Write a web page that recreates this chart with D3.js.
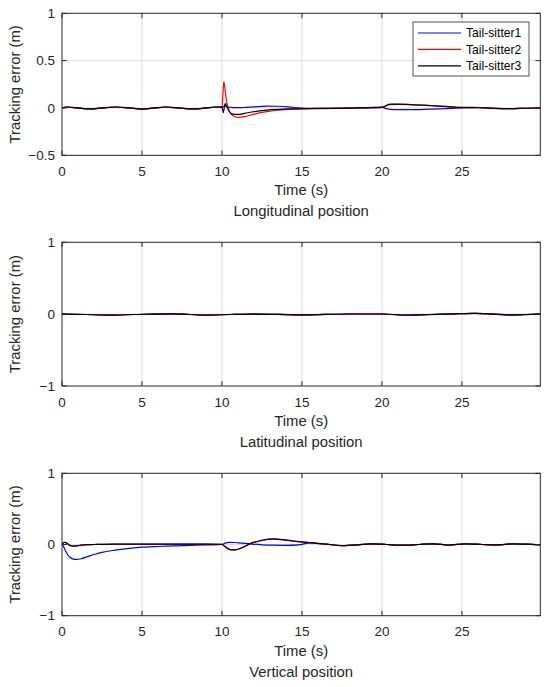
<!DOCTYPE html>
<html>
<head>
<meta charset="utf-8">
<script src="https://cdn.jsdelivr.net/npm/d3@7/dist/d3.min.js"></script>
<style>
  html, body { margin: 0; padding: 0; background: #fff; }
  svg { display: block; font-family: "Liberation Sans", Arial, Helvetica, sans-serif; }
</style>
</head>
<body>
<svg id="chart" width="550" height="687"></svg>
<script>
// ---------------- DATA ----------------
const seriesNames = ["Tail-sitter1", "Tail-sitter2", "Tail-sitter3"];
const seriesColors = ["#0000ff", "#ff0000", "#000000"];
const xTicks = [0, 5, 10, 15, 20, 25];
const xMax = 29.9;

// Longitudinal position
const lonTime = [0,0.3,1.0,1.75,2.5,3.3,4.2,5.0,5.8,6.5,7.3,8.2,9.0,9.6,
  10.0,10.08,10.12,10.2,10.3,10.45,10.6,10.8,11.0,11.4,12.0,12.8,13.5,14.5,15.5,17,18.5,20.0,20.2,20.5,21,21.8,23,24,25,26,27,28,29,29.9];
const lonTS1 = [0,0.01,0,-0.01,0,0.01,0,-0.012,0,0.01,0,-0.01,0,0.01,
  0.008,0.015,0.02,0.02,0.012,0.008,0.005,0.003,0.003,0.005,0.012,0.02,0.018,0.005,-0.005,-0.004,0.0,0.008,-0.004,-0.014,-0.018,-0.018,-0.012,-0.006,0.0,0.003,-0.003,-0.008,-0.003,0.0];
const lonTS2 = [0,0.01,0,-0.01,0,0.01,0,-0.012,0,0.01,0,-0.01,0,0.01,
  0.01,0.2,0.275,0.18,0.06,-0.03,-0.07,-0.09,-0.1,-0.092,-0.065,-0.038,-0.024,-0.013,-0.008,-0.005,0.0,0.006,0.018,0.036,0.038,0.034,0.024,0.014,0.005,0.004,-0.005,-0.008,-0.003,0.0];
const lonTS3 = [0,0.01,0,-0.01,0,0.01,0,-0.012,0,0.01,0,-0.01,0,0.01,
  0.008,-0.05,-0.02,0.045,0.015,-0.035,-0.06,-0.068,-0.068,-0.058,-0.038,-0.022,-0.014,-0.009,-0.006,-0.004,0.0,0.006,0.02,0.04,0.04,0.036,0.026,0.016,0.006,0.005,-0.004,-0.008,-0.003,0.0];
const lonYTicks = [-0.5, 0, 0.5, 1];

// Latitudinal position
const latTime = [0,1.5,3,4.5,6.8,8,9,10.5,12,13.5,15,16.5,18,20,21.5,23,24.5,25.8,27,28,29,29.9];
const latTS1 = [0,-0.005,-0.013,-0.005,0.005,-0.005,-0.013,-0.005,0,-0.003,-0.01,-0.004,0.002,0.002,-0.018,-0.007,0.005,0.012,0.001,-0.014,-0.006,0];
const latTS2 = [0,-0.005,-0.013,-0.005,0.005,-0.005,-0.013,-0.005,0,-0.003,-0.01,-0.004,0.002,0.002,-0.012,-0.005,0.004,0.01,0,-0.01,-0.005,0];
const latTS3 = [0,-0.005,-0.013,-0.005,0.005,-0.005,-0.013,-0.005,0,-0.003,-0.01,-0.004,0.002,0.002,-0.012,-0.005,0.004,0.01,0,-0.01,-0.005,0];
const latYTicks = [-1, 0, 1];

// Vertical position
const verTime = [0,0.1,0.2,0.35,0.5,0.7,0.9,1.2,1.6,2.0,2.5,3.3,4.2,5.0,6.0,7.0,8.0,9.0,10.0,10.2,
  10.5,10.8,11.2,11.8,12.5,13.2,14.0,14.8,15.5,16.5,17.5,18.5,19.3,20.3,21.3,22.3,23.2,24.2,25.2,26.3,27.2,28.2,29.0,29.9];
const verTS1 = [0,-0.03,-0.08,-0.14,-0.18,-0.205,-0.21,-0.2,-0.17,-0.14,-0.11,-0.08,-0.055,-0.038,-0.028,-0.02,-0.013,-0.006,0,0.02,
  0.03,0.028,0.02,0.008,-0.004,-0.01,-0.012,-0.005,0.022,0.005,-0.015,-0.005,0.01,0,-0.01,0,0.01,-0.008,0.01,0,-0.005,0.01,0.005,-0.005];
const verTS2 = [0,0.028,0.03,0.01,-0.014,-0.024,-0.019,-0.01,-0.003,0,0.003,0.005,0.005,0.005,0.005,0.005,0.005,0.005,0.003,-0.032,
  -0.075,-0.078,-0.052,0.013,0.058,0.076,0.061,0.039,0.024,0.005,-0.015,-0.005,0.01,0,-0.01,0,0.01,-0.008,0.01,0,-0.005,0.01,0.005,-0.005];
const verTS3 = [0,0.025,0.03,0.01,-0.012,-0.022,-0.018,-0.01,-0.003,0,0.003,0.005,0.005,0.005,0.005,0.005,0.005,0.005,0.003,-0.03,
  -0.07,-0.075,-0.05,0.015,0.06,0.078,0.062,0.04,0.025,0.005,-0.015,-0.005,0.01,0,-0.01,0,0.01,-0.008,0.01,0,-0.005,0.01,0.005,-0.005];
const verYTicks = [-1, 0, 1];

const panelTitles = ["Longitudinal position", "Latitudinal position", "Vertical position"];
const xLabel = "Time (s)";
const yLabel = "Tracking error (m)";

// ---------------- DRAWING ----------------
const svg = d3.select("#chart");
const axisColor = "#262626";
const gridColor = "#dfdfdf";
const left = 62, right = 540.3;

const panels = [
  { top: 13.3, bottom: 155.3, yDomain: [-0.5, 1], yTicks: lonYTicks, time: lonTime, series: [lonTS1, lonTS2, lonTS3], title: panelTitles[0], legend: true },
  { top: 242.3, bottom: 386, yDomain: [-1, 1], yTicks: latYTicks, time: latTime, series: [latTS1, latTS2, latTS3], title: panelTitles[1] },
  { top: 473.3, bottom: 615.7, yDomain: [-1, 1], yTicks: verYTicks, time: verTime, series: [verTS1, verTS2, verTS3], title: panelTitles[2] }
];

const fmt = v => (v < 0 ? "\u2212" + Math.abs(v) : String(v));

panels.forEach((p, pi) => {
  const x = d3.scaleLinear().domain([0, xMax]).range([left, right]);
  const y = d3.scaleLinear().domain(p.yDomain).range([p.bottom, p.top]);
  const g = svg.append("g");
  const tickLen = 4.8;

  // grid
  g.append("g").selectAll("line").data(xTicks.filter(t => t > 0)).join("line")
    .attr("x1", d => x(d)).attr("x2", d => x(d))
    .attr("y1", p.top).attr("y2", p.bottom)
    .attr("stroke", gridColor).attr("stroke-width", 1);
  g.append("g").selectAll("line").data(p.yTicks.filter(t => t > p.yDomain[0] && t < p.yDomain[1])).join("line")
    .attr("x1", left).attr("x2", right)
    .attr("y1", d => y(d)).attr("y2", d => y(d))
    .attr("stroke", gridColor).attr("stroke-width", 1);

  // clip
  const clipId = "clip" + pi;
  svg.append("clipPath").attr("id", clipId).append("rect")
    .attr("x", left).attr("y", p.top).attr("width", right - left).attr("height", p.bottom - p.top);

  // lines
  const line = d3.line().x(d => x(d[0])).y(d => y(d[1])).curve(d3.curveMonotoneX);
  const lg = g.append("g").attr("clip-path", `url(#${clipId})`);
  p.series.forEach((vals, si) => {
    const pts = p.time.map((t, i) => [t, vals[i]]);
    lg.append("path").datum(pts).attr("d", line)
      .attr("fill", "none").attr("stroke", seriesColors[si]).attr("stroke-width", 1.2)
      .attr("stroke-linejoin", "round");
  });

  // box
  g.append("rect").attr("x", left).attr("y", p.top)
    .attr("width", right - left).attr("height", p.bottom - p.top)
    .attr("fill", "none").attr("stroke", axisColor).attr("stroke-width", 1);

  // ticks (inward, all four sides)
  const tk = g.append("g").attr("stroke", axisColor).attr("stroke-width", 1);
  xTicks.forEach(t => {
    tk.append("line").attr("x1", x(t)).attr("x2", x(t)).attr("y1", p.bottom).attr("y2", p.bottom - tickLen);
    tk.append("line").attr("x1", x(t)).attr("x2", x(t)).attr("y1", p.top).attr("y2", p.top + tickLen);
  });
  p.yTicks.forEach(t => {
    tk.append("line").attr("x1", left).attr("x2", left + tickLen).attr("y1", y(t)).attr("y2", y(t));
    tk.append("line").attr("x1", right).attr("x2", right - tickLen).attr("y1", y(t)).attr("y2", y(t));
  });

  // tick labels
  g.append("g").selectAll("text").data(xTicks).join("text")
    .attr("x", d => x(d)).attr("y", p.bottom + 16)
    .attr("dy", "0.35em").attr("text-anchor", "middle")
    .attr("font-size", 13.5).attr("fill", axisColor).text(d => fmt(d));
  g.append("g").selectAll("text").data(p.yTicks).join("text")
    .attr("x", left - 7).attr("y", d => y(d))
    .attr("dy", "0.35em").attr("text-anchor", "end")
    .attr("font-size", 13.5).attr("fill", axisColor).text(d => fmt(d));

  // axis labels
  const cx = (left + right) / 2;
  g.append("text").attr("x", cx).attr("y", p.bottom + 35).attr("dy", "0.35em")
    .attr("text-anchor", "middle").attr("font-size", 14.85).attr("fill", axisColor).text(xLabel);
  g.append("text").attr("x", cx).attr("y", p.bottom + 56).attr("dy", "0.35em")
    .attr("text-anchor", "middle").attr("font-size", 14.85).attr("fill", axisColor).text(p.title);
  g.append("text")
    .attr("transform", `translate(15,${(p.top + p.bottom) / 2}) rotate(-90)`)
    .attr("dy", "0.35em").attr("text-anchor", "middle")
    .attr("font-size", 14.85).attr("fill", axisColor).text(yLabel);

  // legend
  if (p.legend) {
    const lgX = 413, lgY = 22, lgW = 116, lgH = 54;
    const leg = g.append("g");
    leg.append("rect").attr("x", lgX).attr("y", lgY).attr("width", lgW).attr("height", lgH)
      .attr("fill", "#fff").attr("stroke", axisColor).attr("stroke-width", 0.8);
    seriesNames.forEach((name, i) => {
      const ry = lgY + 11 + i * 16.4;
      leg.append("line").attr("x1", lgX + 5).attr("x2", lgX + 48).attr("y1", ry).attr("y2", ry)
        .attr("stroke", seriesColors[i]).attr("stroke-width", 1.2);
      leg.append("text").attr("x", lgX + 53).attr("y", ry).attr("dy", "0.35em")
        .attr("font-size", 12.15).attr("fill", "#000").text(name);
    });
  }
});
</script>
</body>
</html>
